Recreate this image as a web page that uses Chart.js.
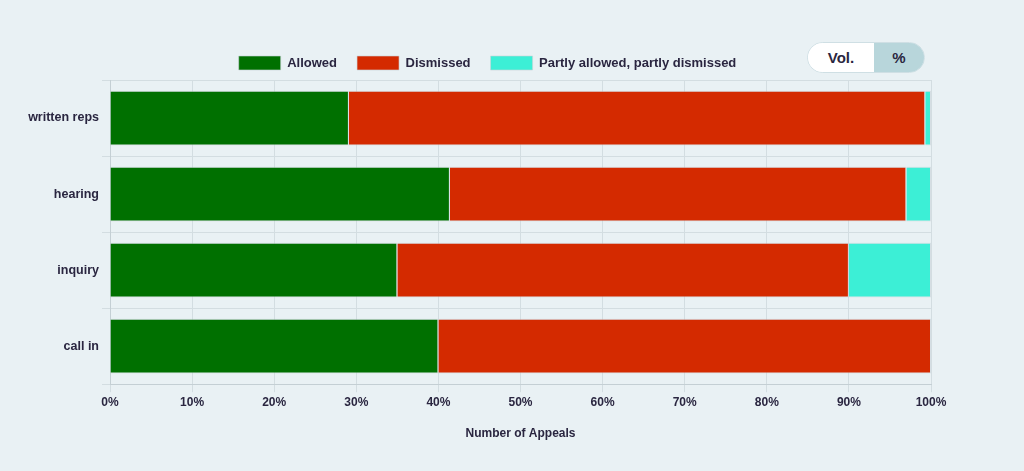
<!DOCTYPE html>
<html lang="en">
<head>
    <meta charset="UTF-8">
    <title>Appeal Outcomes</title>
    <style>
        body {
            margin: 0;
            background-color: #e9f1f4;
            font-family: "Liberation Sans", Arial, sans-serif;
        }
        .wrap {
            position: relative;
            width: 1024px;
            height: 471px;
        }
        .toggle {
            position: absolute;
            left: 807px;
            top: 42px;
            width: 116px;
            height: 29px;
            border: 1px solid #cfdfe4;
            border-radius: 16px;
            overflow: hidden;
            display: flex;
            font-size: 15px;
            font-weight: bold;
            color: #2a2640;
        }
        .toggle span {
            display: flex;
            align-items: center;
            justify-content: center;
        }
        .toggle .vol {
            width: 66px;
            background-color: #fff;
        }
        .toggle .pct {
            flex: 1;
            background-color: #b8d6db;
        }
    </style>
</head>
<body>
    <div class="wrap">
        <canvas id="appealChart" width="1024" height="471"></canvas>
        <div class="toggle"><span class="vol">Vol.</span><span class="pct">%</span></div>
    </div>

    <script src="https://cdn.jsdelivr.net/npm/chart.js"></script>
    <script>
        // share of appeals by procedure (%)
        const procedures = ['written reps', 'hearing', 'inquiry', 'call in'];
        const allowed = [29.1, 41.4, 35.0, 40.0];
        const dismissed = [70.2, 55.6, 55.0, 60.0];
        const partly = [0.7, 3.0, 10.0, 0];

        const textColor = '#2a2640';
        const gridColor = '#d3dde1';

        Chart.defaults.font.family = '"Liberation Sans", Arial, sans-serif';
        Chart.defaults.font.weight = 'bold';
        Chart.defaults.font.size = 12;
        Chart.defaults.color = textColor;

        // nudge the legend a bit right so it sits where the original one does
        const legendShift = {
            id: 'legendShift',
            afterLayout(chart) {
                chart.legend.left += 12;
                chart.legend.right += 12;
            }
        };

        const ctx = document.getElementById('appealChart').getContext('2d');
        new Chart(ctx, {
            type: 'bar',
            data: {
                labels: procedures,
                datasets: [
                    { label: 'Allowed', data: allowed, backgroundColor: '#007000' },
                    { label: 'Dismissed', data: dismissed, backgroundColor: '#d42a00' },
                    { label: 'Partly allowed, partly dismissed', data: partly, backgroundColor: '#3cefd6' }
                ].map(d => Object.assign(d, {
                    borderColor: 'rgba(200, 210, 215, 0.6)',
                    borderWidth: 1,
                    barPercentage: 0.9,
                    categoryPercentage: 0.8
                }))
            },
            options: {
                indexAxis: 'y',
                responsive: false,
                animation: false,
                layout: {
                    padding: { left: 20, right: 93, top: 36, bottom: 30 }
                },
                plugins: {
                    legend: {
                        position: 'top',
                        labels: {
                            boxWidth: 42,
                            boxHeight: 14,
                            padding: 20,
                            color: textColor,
                            font: { size: 13 }
                        }
                    },
                    tooltip: { enabled: false }
                },
                scales: {
                    x: {
                        stacked: true,
                        min: 0,
                        max: 100,
                        ticks: {
                            stepSize: 10,
                            callback: v => v + '%'
                        },
                        grid: { color: gridColor },
                        border: { color: '#c4cfd4' },
                        title: {
                            display: true,
                            text: 'Number of Appeals',
                            padding: { top: 14, bottom: 0 }
                        }
                    },
                    y: {
                        stacked: true,
                        ticks: { font: { size: 12.5 } },
                        grid: { color: gridColor },
                        border: { color: '#c4cfd4' },
                        afterFit: s => { s.width = 90; }
                    }
                }
            },
            plugins: [legendShift]
        });
    </script>
</body>
</html>
